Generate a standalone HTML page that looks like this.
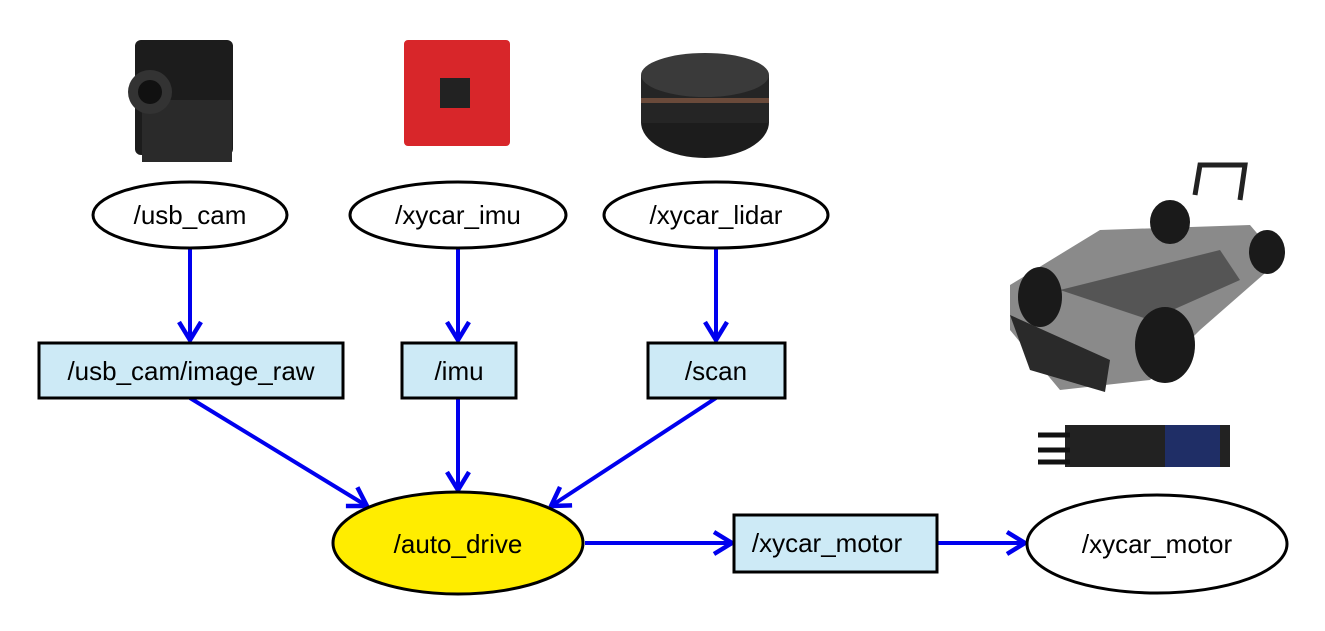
<!DOCTYPE html>
<html><head><meta charset="utf-8"><style>
html,body{margin:0;padding:0;background:#fff;}
svg{display:block;}
text{font-family:"Liberation Sans","Noto Sans CJK KR",sans-serif;font-size:26px;fill:#000;text-anchor:middle;dominant-baseline:central;}
</style></head><body>
<svg width="1325" height="631" viewBox="0 0 1325 631" xmlns="http://www.w3.org/2000/svg">
<defs>
<marker id="a" viewBox="0 0 24 28" refX="22" refY="14" markerWidth="24" markerHeight="28" markerUnits="userSpaceOnUse" orient="auto">
<path d="M4,3 L22,14 L4,25" fill="none" stroke="#0000ee" stroke-width="4.5"/>
</marker>
</defs>
<g>
<rect x="135" y="40" width="98" height="115" rx="6" fill="#1c1c1c"/>
<rect x="142" y="100" width="90" height="62" fill="#2a2a2a"/>
<circle cx="150" cy="92" r="22" fill="#333"/><circle cx="150" cy="92" r="12" fill="#111"/>
</g>
<g>
<rect x="404" y="40" width="106" height="106" rx="4" fill="#d8262a"/>
<rect x="440" y="78" width="30" height="30" fill="#222"/>
</g>
<g>
<ellipse cx="705" cy="122" rx="64" ry="36" fill="#1c1c1c"/>
<rect x="641" y="75" width="128" height="48" fill="#252525"/>
<ellipse cx="705" cy="75" rx="64" ry="22" fill="#3a3a3a"/>
<rect x="641" y="98" width="128" height="5" fill="#6a4a3a"/>
</g>
<g>
<path d="M1010,285 L1100,230 L1250,225 L1280,260 L1200,330 L1150,380 L1060,390 L1010,330 Z" fill="#8a8a8a"/>
<path d="M1060,290 L1220,250 L1240,280 L1150,320 Z" fill="#555"/>
<path d="M1010,315 L1110,360 L1105,392 L1030,370 Z" fill="#2a2a2a"/>
<ellipse cx="1040" cy="297" rx="22" ry="30" fill="#1a1a1a"/>
<ellipse cx="1165" cy="345" rx="30" ry="38" fill="#1a1a1a"/>
<ellipse cx="1170" cy="222" rx="20" ry="22" fill="#1a1a1a"/>
<ellipse cx="1267" cy="252" rx="18" ry="22" fill="#1a1a1a"/>
<path d="M1195,195 L1200,165 L1245,165 L1240,200" fill="none" stroke="#222" stroke-width="5"/>
</g>
<g>
<rect x="1065" y="425" width="165" height="42" fill="#222"/>
<rect x="1165" y="425" width="55" height="42" fill="#1f2e66"/>
<path d="M1038,435 H1070 M1038,450 H1070 M1038,462 H1070" stroke="#111" stroke-width="5"/>
</g>
<g stroke="#0000ee" stroke-width="4" fill="none" marker-end="url(#a)">
<line x1="190" y1="248" x2="190" y2="340"/>
<line x1="458" y1="248" x2="458" y2="340"/>
<line x1="716" y1="248" x2="716" y2="340"/>
<line x1="190" y1="398" x2="367" y2="506"/>
<line x1="458" y1="398" x2="458" y2="490"/>
<line x1="716" y1="398" x2="551" y2="506"/>
<line x1="585" y1="543" x2="732" y2="543"/>
<line x1="937" y1="543" x2="1025" y2="543"/>
</g>
<g stroke="#000" stroke-width="3">
<ellipse cx="190" cy="215" rx="97" ry="33" fill="#fff"/>
<ellipse cx="458" cy="215" rx="108" ry="33" fill="#fff"/>
<ellipse cx="716" cy="215" rx="112" ry="33" fill="#fff"/>
<rect x="39" y="343" width="304" height="55" fill="#cdeaf6"/>
<rect x="402" y="343" width="114" height="55" fill="#cdeaf6"/>
<rect x="648" y="343" width="137" height="55" fill="#cdeaf6"/>
<ellipse cx="458" cy="543" rx="125" ry="51" fill="#ffed00"/>
<rect x="734" y="515" width="203" height="57" fill="#cdeaf6"/>
<ellipse cx="1157" cy="544" rx="130" ry="49" fill="#fff"/>
</g>
<text x="190" y="215">/usb_cam</text>
<text x="458" y="215">/xycar_imu</text>
<text x="716" y="215">/xycar_lidar</text>
<text x="191" y="371">/usb_cam/image_raw</text>
<text x="459" y="371">/imu</text>
<text x="716" y="371">/scan</text>
<text x="458" y="544">/auto_drive</text>
<text x="827" y="543">/xycar_motor</text>
<text x="1157" y="544">/xycar_motor</text>
</svg>
</body></html>
